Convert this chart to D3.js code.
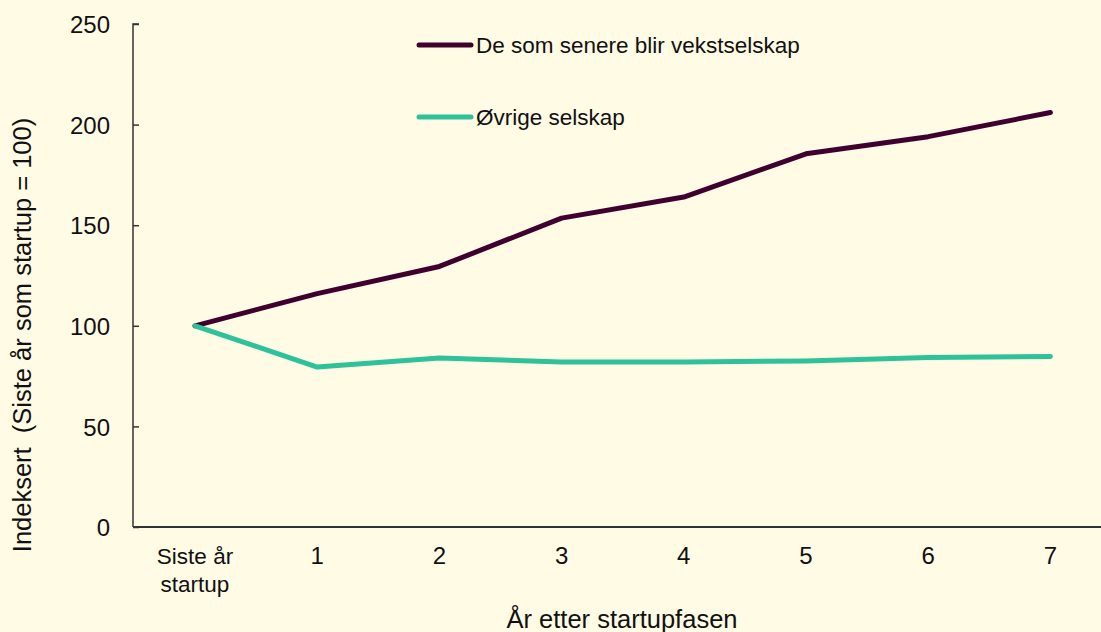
<!DOCTYPE html>
<html>
<head>
<meta charset="utf-8">
<script src="https://cdn.jsdelivr.net/npm/d3@7"></script>
<style>
  body { margin: 0; background: #fffbe5; }
  svg { display: block; font-family: "Liberation Sans", Arial, sans-serif; }
</style>
</head>
<body>
<div id="chart"></div>
<script>
const categories = ["Siste år startup", "1", "2", "3", "4", "5", "6", "7"];
const vekst = [100, 116, 129.5, 153.5, 164, 185.5, 194, 206];
const ovrige = [100, 79.5, 84, 82, 82, 82.5, 84.2, 84.8];
const yTicks = [0, 50, 100, 150, 200, 250];
const seriesNames = ["De som senere blir vekstselskap", "Øvrige selskap"];
const seriesColors = ["#3f0030", "#2ec29b"];

const W = 1101, H = 632;
const margin = { top: 24, right: 0, bottom: 105, left: 133 };
const width = W - margin.left - margin.right;
const height = H - margin.top - margin.bottom;

const svg = d3.select("#chart").append("svg")
  .attr("width", W).attr("height", H);

svg.append("rect").attr("width", W).attr("height", H).attr("fill", "#fffbe5");

const g = svg.append("g")
  .attr("transform", "translate(" + margin.left + "," + margin.top + ")");

const x = d3.scalePoint().domain(categories).range([62, 62 + 7 * 122.2]);
const y = d3.scaleLinear().domain([0, 250]).range([height, 0]);

// y axis, ticks point into the plot
const yAxis = g.append("g")
  .call(d3.axisRight(y).tickValues(yTicks).tickSize(6).tickFormat(d3.format("d")));
yAxis.select(".domain").attr("d", "M6,0H0V" + height).attr("stroke", "#333").attr("stroke-width", 1.5);
yAxis.selectAll(".tick line").attr("stroke", "#333").attr("stroke-width", 1.5);
yAxis.selectAll(".tick text")
  .attr("x", -23).attr("text-anchor", "end").attr("dy", "0.36em")
  .style("font-size", "24px").attr("fill", "#111");

// x axis
g.append("line")
  .attr("x1", 0).attr("x2", width)
  .attr("y1", height).attr("y2", height)
  .attr("stroke", "#333").attr("stroke-width", 2);

const xl = g.append("g").selectAll("text").data(categories).join("text")
  .attr("x", d => x(d))
  .attr("y", height + 37)
  .attr("text-anchor", "middle")
  .style("font-size", d => d === categories[0] ? "22.5px" : "24px")
  .attr("fill", "#111");
xl.each(function (d) {
  const t = d3.select(this);
  if (d === categories[0]) {
    t.append("tspan").attr("x", x(d)).text("Siste år");
    t.append("tspan").attr("x", x(d)).attr("dy", 28).text("startup");
  } else {
    t.text(d);
  }
});

// axis titles
svg.append("text")
  .attr("x", 622).attr("y", 628)
  .attr("text-anchor", "middle")
  .style("font-size", "25.5px").attr("fill", "#111")
  .text("År etter startupfasen");

svg.append("text")
  .attr("transform", "translate(31," + 335 + ") rotate(-90)")
  .attr("text-anchor", "middle")
  .style("font-size", "25.5px").attr("fill", "#111")
  .style("white-space", "pre")
  .text("Indeksert  (Siste år som startup = 100)");

// lines
const line = d3.line()
  .x((d, i) => x(categories[i]))
  .y(d => y(d));

[vekst, ovrige].forEach((s, i) => {
  g.append("path")
    .datum(s)
    .attr("fill", "none")
    .attr("stroke", seriesColors[i])
    .attr("stroke-width", 5)
    .attr("stroke-linejoin", "round")
    .attr("stroke-linecap", "round")
    .attr("d", line);
});

// legend
const legend = svg.append("g");
seriesNames.forEach((n, i) => {
  const ly = 45 + i * 72;
  legend.append("line")
    .attr("x1", 419).attr("x2", 471)
    .attr("y1", ly).attr("y2", ly)
    .attr("stroke", seriesColors[i]).attr("stroke-width", 5)
    .attr("stroke-linecap", "round");
  legend.append("text")
    .attr("x", 476).attr("y", ly + 8)
    .style("font-size", "22.5px").attr("fill", "#111")
    .text(n);
});
</script>
</body>
</html>
